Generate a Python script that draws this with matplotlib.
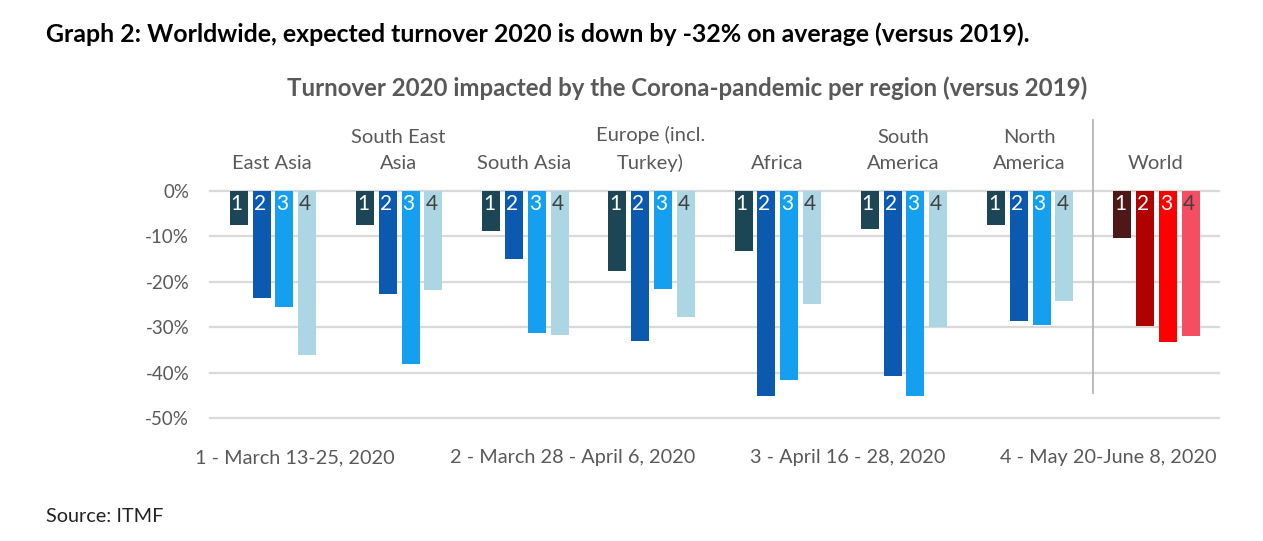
import numpy as np
import matplotlib
matplotlib.use("Agg")
import matplotlib.pyplot as plt
from matplotlib.lines import Line2D

plt.rcParams["font.family"] = ["Lato", "DejaVu Sans"]

regions = ["East Asia", "South East\nAsia", "South Asia", "Europe (incl.\nTurkey)",
           "Africa", "South\nAmerica", "North\nAmerica", "World"]
wave_1 = [-7.5, -7.5, -8.9, -17.5, -13.3, -8.4, -7.5, -10.4]
wave_2 = [-23.5, -22.7, -15.0, -33.0, -45.0, -40.7, -28.6, -29.8]
wave_3 = [-25.6, -38.1, -31.3, -21.5, -41.6, -45.0, -29.4, -33.3]
wave_4 = [-36.0, -21.8, -31.6, -27.7, -24.9, -30.0, -24.2, -31.9]
wave_labels = ["1 - March 13-25, 2020", "2 - March 28 - April 6, 2020",
               "3 - April 16 - 28, 2020", "4 - May 20-June 8, 2020"]
yticks = [0, -10, -20, -30, -40, -50]

region_colors = ["#1c4655", "#0b5ab0", "#14a0ee", "#acd6e3"]
world_colors = ["#4f1818", "#b00000", "#ff0000", "#f54d62"]
text_grey = "#595959"

W, H = 1263, 541
fig = plt.figure(figsize=(W / 100, H / 100), dpi=100)
ax = fig.add_axes([210 / W, 1 - 418.3 / H, (1219 - 210) / W, (418.3 - 191) / H])

pitch = 126.2
ax.set_xlim(-(273 - 210) / pitch, (1219 - 273) / pitch)
ax.set_ylim(-50, 0)

x = np.arange(len(regions), dtype=float)
offsets = np.array([-1.5, -0.5, 0.5, 1.5]) * 22.8 / pitch
bar_w = 18 / pitch

for k, vals in enumerate([wave_1, wave_2, wave_3, wave_4]):
    cols = [region_colors[k]] * 7 + [world_colors[k]]
    ax.bar(x + offsets[k], vals, width=bar_w, color=cols, zorder=3)
    for xi in x:
        ax.text(xi + offsets[k] - 2 / pitch, -2.75, str(k + 1), ha="center", va="center",
                fontsize=15, color="#404040" if k == 3 else "white", zorder=4)

ax.set_yticks(yticks)
ax.set_yticklabels([f"{t}%" for t in yticks], fontsize=13.5, color=text_grey)
ax.set_xticks([])
ax.tick_params(axis="y", length=0, pad=15)
ax.grid(axis="y", color="#d9d9d9", lw=1.6, zorder=0)
ax.set_axisbelow(True)
for gl in ax.get_ygridlines():
    gl.set_clip_on(False)
for s in ax.spines.values():
    s.set_visible(False)

for xi, name in zip(x, regions):
    ax.text(xi - 1 / pitch, 1 + 19 / (418.3 - 191), name, transform=ax.get_xaxis_transform(),
            ha="center", va="bottom", fontsize=14.5, color=text_grey, linespacing=1.65)

# separator before the world group
fig.add_artist(Line2D([1092.5 / W, 1092.5 / W], [1 - 120 / H, 1 - 393 / H], color="#b5b5b5", lw=1.3))

for cx, lab in zip([295, 573, 848, 1108], wave_labels):
    fig.text(cx / W, 1 - 458 / H, lab, ha="center", va="center", fontsize=14.3, color=text_grey)

fig.text(687 / W, 1 - 88 / H, "Turnover 2020 impacted by the Corona-pandemic per region (versus 2019)",
         ha="center", va="center", fontsize=17.3, fontweight="bold", color=text_grey)
fig.text(46 / W, 1 - 34 / H, "Graph 2: Worldwide, expected turnover 2020 is down by -32% on average (versus 2019).",
         ha="left", va="center", fontsize=17.95, fontweight="bold", color="black")
fig.text(46 / W, 1 - 517 / H, "Source: ITMF", ha="left", va="center", fontsize=14.3, color="#222222")

fig.savefig("out.png", dpi=100)
